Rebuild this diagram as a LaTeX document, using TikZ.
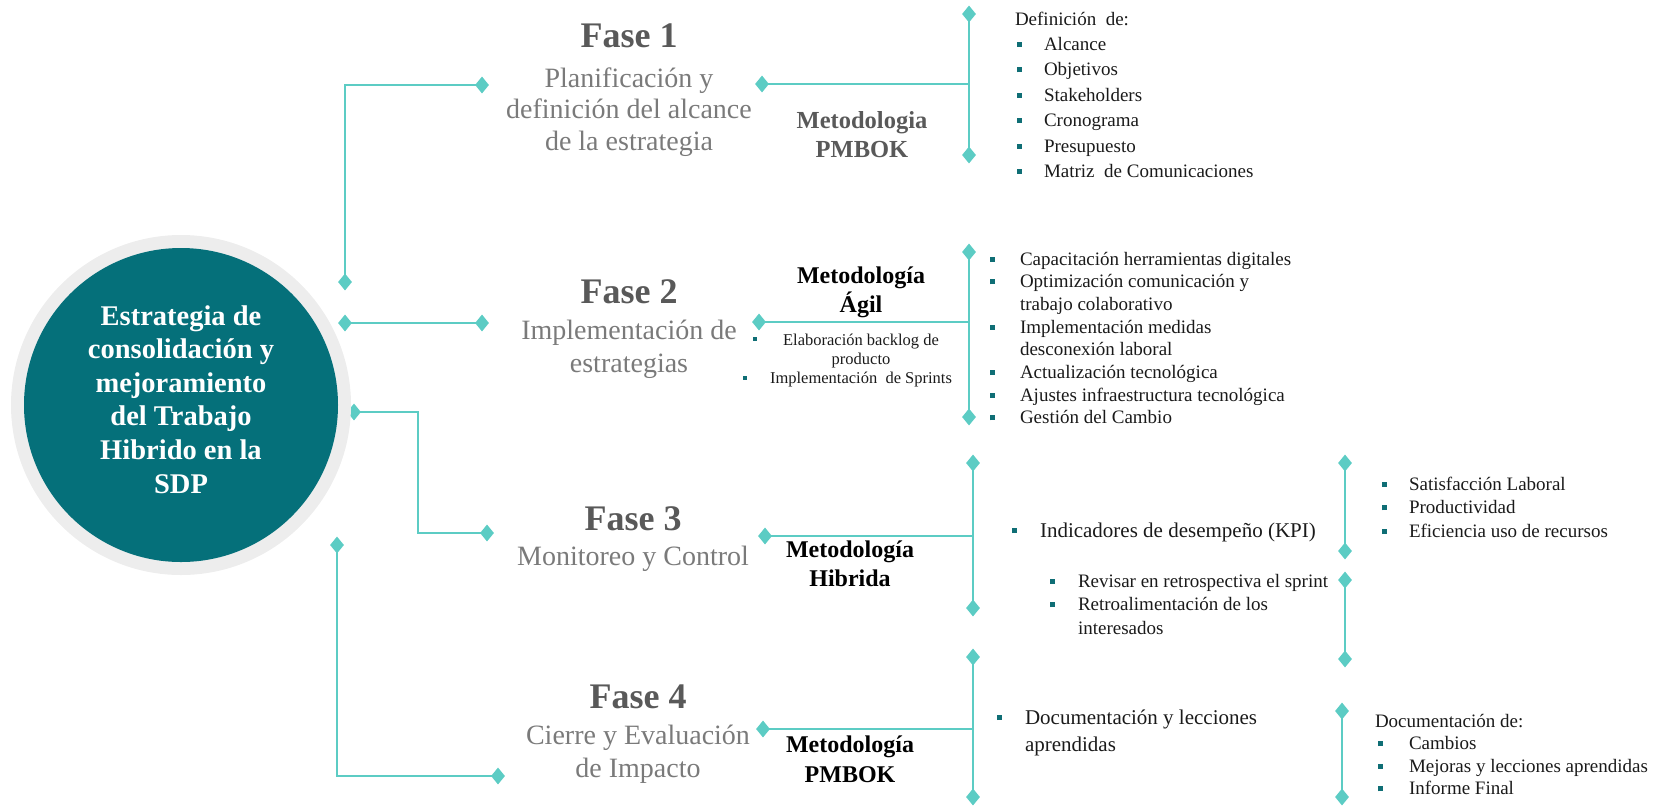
\documentclass[tikz,border=0pt]{standalone}
\usepackage{fontspec}
\setmainfont{Liberation Serif}
\usetikzlibrary{shapes.geometric}
\definecolor{turq}{HTML}{5CCCC4}
\definecolor{tealc}{HTML}{05707A}
\definecolor{ringc}{HTML}{EDEDED}
\definecolor{headc}{HTML}{595959}
\definecolor{subc}{HTML}{7A7A7A}
\definecolor{bulc}{HTML}{0F6E75}
\definecolor{bodyc}{HTML}{1A1A1A}
% square list marker
\newcommand{\bsq}{\textcolor{bulc}{\rule[0.18em]{5pt}{5pt}}}
\begin{document}
\begin{tikzpicture}[x=1pt,y=-1pt,
  conn/.style={draw=turq,line width=2.8pt},
  dmd/.style={diamond,fill=turq,inner sep=0pt,minimum width=14pt,minimum height=17pt},
  txt/.style={inner sep=0pt,outer sep=0pt},
  head/.style={txt,anchor=base,text=headc,font=\fontsize{36}{40}\selectfont\bfseries},
  sub/.style={txt,anchor=base,text=subc},
  meth/.style={txt,anchor=base,text=black},
  lst/.style={txt,anchor=base west,text=bodyc},
  smallsq/.style={fill=bulc,inner sep=0pt,minimum size=4.5pt}]
\useasboundingbox (0,0) rectangle (1661,807);

% ---- left connectors from the centre circle ----
\node[dmd] (a1) at (345,282) {};
\node[dmd] (a2) at (482,85) {};
\draw[conn] (a1.center) |- (a2.center);

\node[dmd] (b1) at (345,323) {};
\node[dmd] (b2) at (482,323) {};
\draw[conn] (b1.center) -- (b2.center);

\node[dmd] (c0) at (354,412) {};
\coordinate (ck) at (418,412);
\node[dmd] (c1) at (487,533) {};
\draw[conn] (c0.center) -- (ck) |- (c1.center);

\node[dmd] (e1) at (337,545) {};
\node[dmd] (e2) at (498,776) {};
\draw[conn] (e1.center) |- (e2.center);

% ---- centre circle ----
\node[circle,fill=ringc,minimum size=340pt,inner sep=0pt] (ring) at (181,405) {};
\node[circle,fill=tealc,minimum size=314pt,inner sep=0pt] (core) at (181,405) {};
\node[txt,anchor=base,text=white,font=\fontsize{28.5}{33.6}\selectfont\bfseries] (title) at (181,325)
  {\begin{tabular}[t]{c}Estrategia de\\consolidación y\\mejoramiento\\del Trabajo\\Hibrido en la\\SDP\end{tabular}};

% ---- Fase 1 ----
\node[head] (f1) at (629,47) {Fase 1};
\node[sub,font=\fontsize{28}{31.5}\selectfont] (f1s) at (629,87)
  {\begin{tabular}[t]{c}Planificación y\\definición del alcance\\de la estrategia\end{tabular}};
\node[meth,text=headc,font=\fontsize{24.5}{29}\selectfont\bfseries] (m1) at (862,128)
  {\begin{tabular}[t]{c}Metodologia\\PMBOK\end{tabular}};
\node[dmd] (p1t) at (969,14) {};
\node[dmd] (p1b) at (969,155) {};
\node[dmd] (p1l) at (762,84) {};
\coordinate (p1j) at (969,84);
\draw[conn] (p1t.center) -- (p1b.center);
\draw[conn] (p1l.center) -- (p1j);
\node[lst,font=\fontsize{19}{25.4}\selectfont] (l1) at (1015,25)
  {\begin{tabular}[t]{@{}p{29pt}@{}l@{}}
   \multicolumn{2}{@{}l@{}}{Definición\ \ de:}\\
   \hspace{1.5pt}\bsq & Alcance\\
   \hspace{1.5pt}\bsq & Objetivos\\
   \hspace{1.5pt}\bsq & Stakeholders\\
   \hspace{1.5pt}\bsq & Cronograma\\
   \hspace{1.5pt}\bsq & Presupuesto\\
   \hspace{1.5pt}\bsq & Matriz\ \ de Comunicaciones
  \end{tabular}};

% ---- Fase 2 ----
\node[head] (f2) at (629,303) {Fase 2};
\node[sub,font=\fontsize{28}{33}\selectfont] (f2s) at (629,339)
  {\begin{tabular}[t]{c}Implementación de\\estrategias\end{tabular}};
\node[meth,font=\fontsize{24}{29}\selectfont\bfseries] (m2) at (861,283)
  {\begin{tabular}[t]{c}Metodología\\Ágil\end{tabular}};
\node[meth,text=bodyc,font=\fontsize{16.5}{19}\selectfont] (m2s) at (861,345)
  {\begin{tabular}[t]{c}Elaboración backlog de\\producto\\Implementación\ \ de Sprints\end{tabular}};
\node[smallsq] (m2b1) at (755,339) {};
\node[smallsq] (m2b2) at (745,378) {};
\node[dmd] (q2t) at (969,252) {};
\node[dmd] (q2b) at (969,417) {};
\node[dmd] (q2l) at (759,322) {};
\coordinate (q2j) at (969,322);
\draw[conn] (q2t.center) -- (q2b.center);
\draw[conn] (q2l.center) -- (q2j);
\node[lst,font=\fontsize{19}{22.7}\selectfont] (l2) at (989.5,265)
  {\begin{tabular}[t]{@{}p{30.5pt}@{}l@{}}
   \bsq & Capacitación herramientas digitales\\
   \bsq & Optimización comunicación y\\
        & trabajo colaborativo\\
   \bsq & Implementación medidas\\
        & desconexión laboral\\
   \bsq & Actualización tecnológica\\
   \bsq & Ajustes infraestructura tecnológica\\
   \bsq & Gestión del Cambio
  \end{tabular}};

% ---- Fase 3 ----
\node[head] (f3) at (633,530) {Fase 3};
\node[sub,font=\fontsize{28}{33}\selectfont] (f3s) at (633,565) {Monitoreo y Control};
\node[meth,font=\fontsize{24}{29}\selectfont\bfseries] (m3) at (850,557)
  {\begin{tabular}[t]{c}Metodología\\Hibrida\end{tabular}};
\node[dmd] (r3t) at (973,463) {};
\node[dmd] (r3b) at (973,608) {};
\node[dmd] (r3l) at (765,536) {};
\coordinate (r3j) at (973,536);
\draw[conn] (r3t.center) -- (r3b.center);
\draw[conn] (r3l.center) -- (r3j);
\node[lst,font=\fontsize{21}{25}\selectfont] (kpi) at (1011.5,537)
  {\begin{tabular}[t]{@{}p{28.5pt}@{}l@{}}\bsq & Indicadores de desempeño (KPI)\end{tabular}};
\node[lst,font=\fontsize{19}{23.5}\selectfont] (ret) at (1049.5,587)
  {\begin{tabular}[t]{@{}p{28.5pt}@{}l@{}}
   \bsq & Revisar en retrospectiva el sprint\\
   \bsq & Retroalimentación de los\\
        & interesados
  \end{tabular}};
\node[dmd] (u1) at (1345,463) {};
\node[dmd] (u2) at (1345,551) {};
\draw[conn] (u1.center) -- (u2.center);
\node[dmd] (v1) at (1345,580) {};
\node[dmd] (v2) at (1345,659) {};
\draw[conn] (v1.center) -- (v2.center);
\node[lst,font=\fontsize{19}{23.8}\selectfont] (kl) at (1381.5,490)
  {\begin{tabular}[t]{@{}p{27.5pt}@{}l@{}}
   \bsq & Satisfacción Laboral\\
   \bsq & Productividad\\
   \bsq & Eficiencia uso de recursos
  \end{tabular}};

% ---- Fase 4 ----
\node[head] (f4) at (638,708) {Fase 4};
\node[sub,font=\fontsize{28}{33}\selectfont] (f4s) at (638,744)
  {\begin{tabular}[t]{c}Cierre y Evaluación\\de Impacto\end{tabular}};
\node[meth,font=\fontsize{24}{30}\selectfont\bfseries] (m4) at (850,752)
  {\begin{tabular}[t]{c}Metodología\\PMBOK\end{tabular}};
\node[dmd] (s4t) at (973,657) {};
\node[dmd] (s4b) at (973,797) {};
\node[dmd] (s4l) at (763,729) {};
\coordinate (s4j) at (973,729);
\draw[conn] (s4t.center) -- (s4b.center);
\draw[conn] (s4l.center) -- (s4j);
\node[lst,font=\fontsize{21}{27}\selectfont] (doc) at (996.5,724)
  {\begin{tabular}[t]{@{}p{28.5pt}@{}l@{}}
   \bsq & Documentación y lecciones\\
        & aprendidas
  \end{tabular}};
\node[dmd] (w1) at (1342,711) {};
\node[dmd] (w2) at (1342,797) {};
\draw[conn] (w1.center) -- (w2.center);
\node[lst,font=\fontsize{19}{22.6}\selectfont] (dl) at (1375,727)
  {\begin{tabular}[t]{@{}p{34pt}@{}l@{}}
   \multicolumn{2}{@{}l@{}}{Documentación de:}\\
   \hspace{2.5pt}\bsq & Cambios\\
   \hspace{2.5pt}\bsq & Mejoras y lecciones aprendidas\\
   \hspace{2.5pt}\bsq & Informe Final
  \end{tabular}};
\end{tikzpicture}
\end{document}
